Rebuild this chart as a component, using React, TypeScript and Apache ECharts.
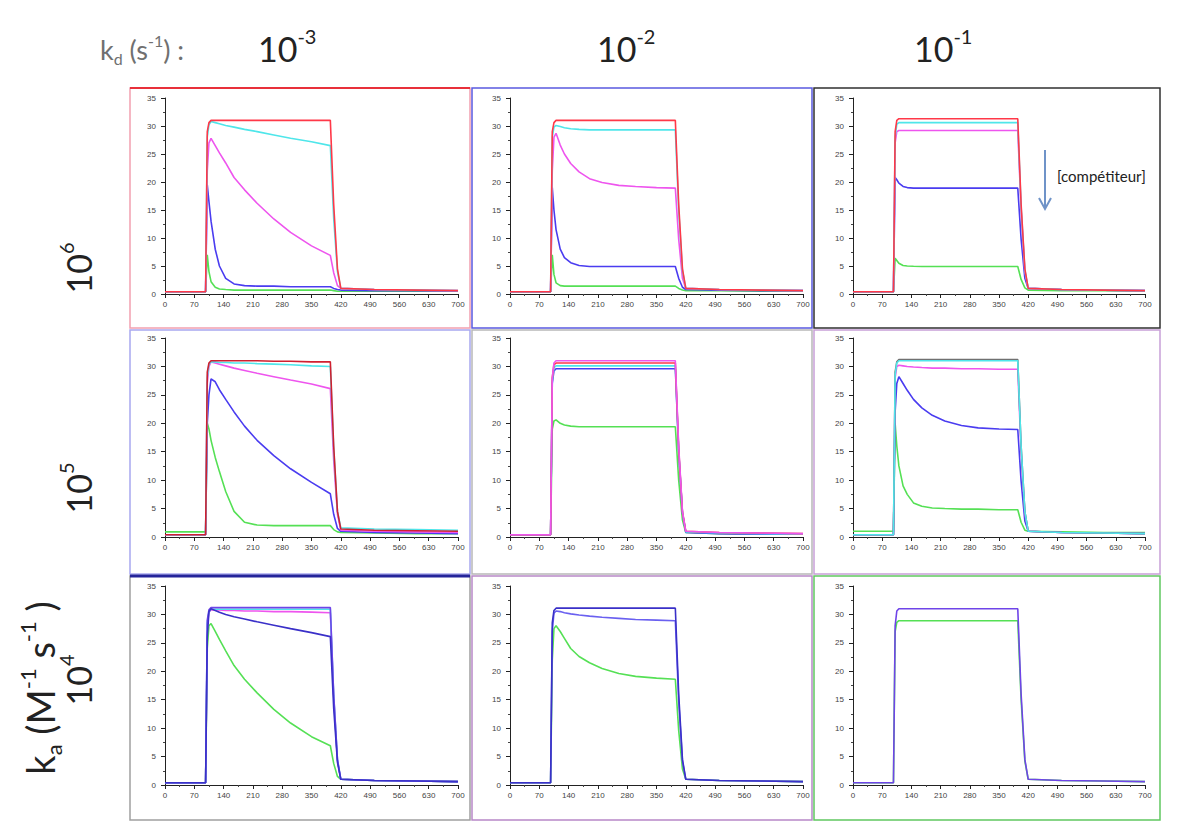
import React, { useEffect, useRef } from "react";
import * as echarts from "echarts";

// shared time points (s)
const T = [0, 97, 101, 105, 110, 120, 130, 145, 165, 190, 220, 260, 300, 350, 395, 403, 412, 420, 500, 600, 700];

const KD_EXP = ["-3", "-2", "-1"];
const KA_EXP = ["6", "5", "4"];

// row 0 : ka = 1e6
const aRed = [0.4, 0.4, 29, 30.6, 31, 31, 31, 31, 31, 31, 31, 31, 31, 31, 31, 16, 4.5, 1.0, 0.8, 0.7, 0.6];
const aCyan = [0.4, 0.4, 28, 30.2, 30.8, 30.6, 30.4, 30.1, 29.8, 29.4, 29.0, 28.4, 27.8, 27.2, 26.5, 13.5, 4.0, 1.0, 0.8, 0.7, 0.6];
const aMagenta = [0.4, 0.4, 22, 27, 27.8, 26.5, 25.2, 23.4, 20.8, 18.6, 16.2, 13.4, 11.0, 8.6, 6.9, 3.8, 1.5, 1.0, 0.8, 0.7, 0.6];
const aBlue = [0.4, 0.4, 19.5, 16.5, 13, 8, 5, 2.8, 1.8, 1.5, 1.4, 1.4, 1.3, 1.3, 1.3, 1.0, 0.8, 0.7, 0.6, 0.6, 0.5];
const aGreen = [0.4, 0.4, 7, 4, 2.2, 1.2, 0.9, 0.8, 0.7, 0.7, 0.7, 0.7, 0.7, 0.7, 0.7, 0.6, 0.5, 0.5, 0.5, 0.5, 0.5];

const bRed = [0.4, 0.4, 29, 30.6, 31, 31, 31, 31, 31, 31, 31, 31, 31, 31, 31, 16, 4.5, 1.0, 0.8, 0.7, 0.6];
const bCyan = [0.4, 0.4, 28, 29.8, 30.1, 29.9, 29.7, 29.5, 29.4, 29.3, 29.3, 29.3, 29.3, 29.3, 29.3, 15, 4.2, 1.0, 0.8, 0.7, 0.6];
const bMagenta = [0.4, 0.4, 22, 28, 28.7, 26.6, 25.0, 23.3, 21.8, 20.6, 19.9, 19.4, 19.2, 19.0, 18.9, 9.8, 2.8, 1.0, 0.8, 0.7, 0.6];
const bBlue = [0.4, 0.4, 19, 15, 11.5, 8, 6.5, 5.6, 5.1, 4.9, 4.9, 4.9, 4.9, 4.9, 4.9, 2.8, 1.2, 0.8, 0.7, 0.6, 0.6];
const bGreen = [0.4, 0.4, 7, 3.5, 2, 1.5, 1.4, 1.4, 1.4, 1.4, 1.4, 1.4, 1.4, 1.4, 1.4, 1.0, 0.7, 0.6, 0.6, 0.5, 0.5];

const cRed = [0.4, 0.4, 29, 31, 31.3, 31.3, 31.3, 31.3, 31.3, 31.3, 31.3, 31.3, 31.3, 31.3, 31.3, 16, 4.5, 1.0, 0.8, 0.7, 0.6];
const cCyan = [0.4, 0.4, 28, 30.3, 30.6, 30.6, 30.6, 30.6, 30.6, 30.6, 30.6, 30.6, 30.6, 30.6, 30.6, 15.5, 4.3, 1.0, 0.8, 0.7, 0.6];
const cMagenta = [0.4, 0.4, 27, 29, 29.2, 29.2, 29.2, 29.2, 29.2, 29.2, 29.2, 29.2, 29.2, 29.2, 29.2, 15, 4.0, 1.0, 0.8, 0.7, 0.6];
const cBlue = [0.4, 0.4, 20.8, 20.4, 19.8, 19.2, 19.0, 18.9, 18.9, 18.9, 18.9, 18.9, 18.9, 18.9, 18.9, 9.8, 2.8, 1.0, 0.8, 0.7, 0.6];
const cGreen = [0.4, 0.4, 6.4, 6.0, 5.5, 5.1, 5.0, 4.95, 4.9, 4.9, 4.9, 4.9, 4.9, 4.9, 4.9, 2.6, 1.1, 0.7, 0.6, 0.6, 0.5];

// row 1 : ka = 1e5
const dRed = [0.4, 0.4, 29, 30.6, 31, 31, 31, 31, 31, 31, 31, 30.9, 30.9, 30.8, 30.8, 16, 4.5, 1.4, 1.2, 1.1, 1.0];
const dCyan = [0.4, 0.4, 28, 30.4, 30.8, 30.8, 30.7, 30.7, 30.6, 30.6, 30.5, 30.4, 30.3, 30.1, 30.0, 15.5, 4.5, 1.6, 1.4, 1.3, 1.2];
const dMagenta = [0.4, 0.4, 27, 30, 30.8, 30.6, 30.4, 30.1, 29.7, 29.3, 28.8, 28.2, 27.6, 26.9, 26.1, 13.5, 4.0, 1.2, 1.0, 0.9, 0.8];
const dBlue = [0.4, 0.4, 20, 25, 27.8, 27.3, 25.9, 24.2, 22.0, 19.5, 17.0, 14.3, 12.0, 9.6, 7.6, 4.0, 1.5, 1.0, 0.8, 0.7, 0.6];
const dGreen = [0.9, 0.9, 20, 19, 17, 14, 11.5, 8, 4.5, 2.6, 2.1, 2.0, 2.0, 2.0, 2.0, 1.3, 0.9, 0.8, 0.7, 0.6, 0.6];

const eMagenta = [0.4, 0.4, 28, 30.6, 31, 31, 31, 31, 31, 31, 31, 31, 31, 31, 31, 16, 4.5, 1.0, 0.8, 0.7, 0.6];
const eRed = [0.4, 0.4, 28, 30.3, 30.6, 30.6, 30.6, 30.6, 30.6, 30.6, 30.6, 30.6, 30.6, 30.6, 30.6, 15.5, 4.4, 1.0, 0.8, 0.7, 0.6];
const eCyan = [0.4, 0.4, 27.5, 29.8, 30.1, 30.1, 30.1, 30.1, 30.1, 30.1, 30.1, 30.1, 30.1, 30.1, 30.1, 15.2, 4.3, 0.9, 0.7, 0.6, 0.5];
const eBlue = [0.4, 0.4, 27, 29.2, 29.6, 29.6, 29.6, 29.6, 29.6, 29.6, 29.6, 29.6, 29.6, 29.6, 29.6, 15, 4.2, 0.8, 0.6, 0.5, 0.5];
const eGreen = [0.4, 0.4, 19, 20.4, 20.6, 20.0, 19.7, 19.5, 19.4, 19.4, 19.4, 19.4, 19.4, 19.4, 19.4, 10, 3.0, 0.8, 0.6, 0.5, 0.5];

const fRed = [0.4, 0.4, 29, 30.8, 31.2, 31.2, 31.2, 31.2, 31.2, 31.2, 31.2, 31.2, 31.2, 31.2, 31.2, 16, 4.5, 1.0, 0.8, 0.7, 0.6];
const fCyan = [0.4, 0.4, 28.5, 30.6, 31.0, 31.0, 31.0, 31.0, 31.0, 31.0, 31.0, 31.0, 31.0, 31.0, 31.0, 16, 4.5, 1.0, 0.8, 0.7, 0.6];
const fMagenta = [0.4, 0.4, 28, 30, 30.2, 30.1, 30.0, 29.9, 29.8, 29.7, 29.7, 29.6, 29.6, 29.5, 29.5, 15, 4.2, 1.0, 0.8, 0.7, 0.6];
const fBlue = [0.4, 0.4, 22, 27, 28.2, 27.0, 25.8, 24.2, 22.7, 21.4, 20.4, 19.6, 19.2, 19.0, 18.9, 9.8, 2.8, 1.0, 0.8, 0.7, 0.6];
const fGreen = [1.0, 1.0, 20, 16, 12.5, 9, 7.5, 6.0, 5.4, 5.1, 5.0, 4.9, 4.9, 4.8, 4.8, 2.6, 1.2, 1.0, 0.9, 0.8, 0.8];

// row 2 : ka = 1e4
const gViolet = [0.4, 0.4, 29, 30.8, 31.2, 31.2, 31.2, 31.2, 31.2, 31.2, 31.2, 31.2, 31.2, 31.2, 31.2, 16, 4.5, 1.0, 0.8, 0.7, 0.6];
const gCyan = [0.4, 0.4, 28.5, 30.5, 30.9, 30.9, 30.9, 30.9, 30.9, 30.9, 30.9, 30.9, 30.9, 30.9, 30.9, 15.8, 4.4, 1.0, 0.8, 0.7, 0.6];
const gMagenta = [0.4, 0.4, 28, 30.4, 30.8, 30.8, 30.8, 30.7, 30.7, 30.6, 30.6, 30.5, 30.5, 30.4, 30.3, 15.5, 4.3, 1.0, 0.8, 0.7, 0.6];
const gBlue = [0.4, 0.4, 26, 30.5, 31, 30.7, 30.4, 30.0, 29.6, 29.2, 28.7, 28.1, 27.5, 26.8, 26.1, 13.5, 4.0, 1.0, 0.8, 0.7, 0.6];
const gGreen = [0.4, 0.4, 24, 28, 28.4, 27, 25.6, 23.6, 21.0, 18.6, 16.2, 13.3, 10.9, 8.5, 6.9, 3.8, 1.5, 1.0, 0.8, 0.7, 0.6];

const hNavy = [0.4, 0.4, 28.5, 30.7, 31.1, 31.1, 31.1, 31.1, 31.1, 31.1, 31.1, 31.1, 31.1, 31.1, 31.1, 16, 4.5, 1.0, 0.8, 0.7, 0.6];
const hBlue = [0.4, 0.4, 27, 30.2, 30.6, 30.5, 30.3, 30.1, 29.9, 29.7, 29.5, 29.3, 29.1, 29.0, 28.9, 14.8, 4.2, 1.0, 0.8, 0.7, 0.6];
const hGreen = [0.4, 0.4, 22, 27.5, 28.0, 27.0, 25.8, 24.0, 22.6, 21.5, 20.5, 19.6, 19.1, 18.8, 18.6, 9.6, 2.8, 1.0, 0.8, 0.7, 0.6];

const iViolet = [0.4, 0.4, 28, 30.6, 31.0, 31.0, 31.0, 31.0, 31.0, 31.0, 31.0, 31.0, 31.0, 31.0, 31.0, 16, 4.5, 1.0, 0.8, 0.7, 0.6];
const iGreen = [0.4, 0.4, 27, 28.6, 28.9, 28.9, 28.9, 28.9, 28.9, 28.9, 28.9, 28.9, 28.9, 28.9, 28.9, 15, 4.2, 1.0, 0.8, 0.7, 0.6];

const RED = "#ff3848";
const CYAN = "#4fe6ea";
const MAGENTA = "#ee55ee";
const BLUE = "#4a3cf0";
const GREEN = "#55e055";
const VIOLET = "#6f44e8";
const NAVY = "#3a30c8";

const PANELS: [number[], string][][] = [
  [[aGreen, GREEN], [aBlue, BLUE], [aMagenta, MAGENTA], [aCyan, CYAN], [aRed, RED]],
  [[bGreen, GREEN], [bBlue, BLUE], [bMagenta, MAGENTA], [bCyan, CYAN], [bRed, RED]],
  [[cGreen, GREEN], [cBlue, BLUE], [cMagenta, MAGENTA], [cCyan, CYAN], [cRed, RED]],
  [[dGreen, GREEN], [dBlue, BLUE], [dMagenta, MAGENTA], [dCyan, CYAN], [dRed, "#d02030"]],
  [[eGreen, GREEN], [eBlue, BLUE], [eCyan, CYAN], [eRed, RED], [eMagenta, MAGENTA]],
  [[fGreen, GREEN], [fBlue, BLUE], [fMagenta, MAGENTA], [fRed, "#707070"], [fCyan, CYAN]],
  [[gGreen, GREEN], [gMagenta, MAGENTA], [gCyan, CYAN], [gViolet, VIOLET], [gBlue, NAVY]],
  [[hGreen, GREEN], [hBlue, "#6a60f0"], [hNavy, NAVY]],
  [[iGreen, GREEN], [iViolet, VIOLET]],
];

const GRID_LEFT = [165, 510, 853];
const GRID_W = [293, 293, 292];
const GRID_TOP = [98, 338, 586];
const GRID_H = [196, 199, 199];

const BOXES = [
  { x: 130, y: 88, w: 340, h: 240, c: "#f2a0b0" },
  { x: 472, y: 88, w: 340, h: 240, c: "#5a5ae0" },
  { x: 814, y: 88, w: 346, h: 240, c: "#303030" },
  { x: 130, y: 330, w: 340, h: 244, c: "#a8a8f0" },
  { x: 472, y: 330, w: 340, h: 244, c: "#b8b8b8" },
  { x: 814, y: 330, w: 346, h: 244, c: "#c8a0d8" },
  { x: 130, y: 576, w: 340, h: 244, c: "#a0a0a0" },
  { x: 472, y: 576, w: 340, h: 244, c: "#b888c8" },
  { x: 814, y: 576, w: 346, h: 244, c: "#60c860" },
];

const FONT = "Lato, 'Open Sans', sans-serif";

function buildOption() {
  const grid: any[] = [];
  const xAxis: any[] = [];
  const yAxis: any[] = [];
  const series: any[] = [];
  PANELS.forEach((lines, i) => {
    const r = Math.floor(i / 3);
    const c = i % 3;
    grid.push({ left: GRID_LEFT[c], top: GRID_TOP[r], width: GRID_W[c], height: GRID_H[r], containLabel: false, outerBoundsMode: "none" });
    xAxis.push({
      type: "value", gridIndex: i, min: 0, max: 700, interval: 70,
      axisLine: { show: true, onZero: false, lineStyle: { color: "#222", width: 1 } },
      axisTick: { show: true, length: 4, lineStyle: { color: "#222" } },
      minorTick: { show: true, splitNumber: 2, length: 2, lineStyle: { color: "#444" } },
      splitLine: { show: false },
      axisLabel: { fontSize: 8, color: "#444", margin: 6, fontFamily: "'Liberation Sans', sans-serif" },
    });
    yAxis.push({
      type: "value", gridIndex: i, min: 0, max: 35, interval: 5,
      axisLine: { show: true, lineStyle: { color: "#222", width: 1 } },
      axisTick: { show: true, length: 4, lineStyle: { color: "#222" } },
      minorTick: { show: true, splitNumber: 2, length: 2, lineStyle: { color: "#444" } },
      splitLine: { show: false },
      axisLabel: { fontSize: 8, color: "#444", margin: 9, fontFamily: "'Liberation Sans', sans-serif" },
    });
    lines.forEach(([vals, color]) => {
      series.push({
        type: "line", xAxisIndex: i, yAxisIndex: i, symbol: "none", showSymbol: false, silent: true,
        data: T.map((t, k) => [t, vals[k]]),
        lineStyle: { color, width: 1.6 },
      });
    });
  });

  const elements: any[] = [];
  BOXES.forEach((b) => {
    elements.push({ type: "rect", shape: { x: b.x, y: b.y, width: b.w, height: b.h }, style: { fill: "none", stroke: b.c, lineWidth: 1.5 }, z: 10 });
  });
  elements.push({ type: "line", shape: { x1: 130, y1: 88, x2: 470, y2: 88 }, style: { stroke: "#e8303a", lineWidth: 2 }, z: 11 });
  elements.push({ type: "line", shape: { x1: 130, y1: 576, x2: 470, y2: 576 }, style: { stroke: "#24249a", lineWidth: 3 }, z: 11 });

  const supRich = {
    n: { fontSize: 34, fontFamily: FONT, fill: "#222", lineHeight: 44, verticalAlign: "middle" },
    sup: { fontSize: 20, fontFamily: FONT, fill: "#222", lineHeight: 22, verticalAlign: "top" },
    sub: { fontSize: 20, fontFamily: FONT, fill: "#222", lineHeight: 22, verticalAlign: "bottom" },
  };

  // k_d header
  elements.push({
    type: "text", x: 100, y: 49,
    style: {
      text: "{n|k}{sub|d}{n| (s}{sup|-1}{n|) :}",
      align: "left", verticalAlign: "middle", textAlign: "left", textVerticalAlign: "middle",
      rich: {
        n: { fontSize: 27, fontFamily: FONT, fill: "#707070", lineHeight: 34 },
        sup: { fontSize: 16, fontFamily: FONT, fill: "#707070", lineHeight: 16, verticalAlign: "top" },
        sub: { fontSize: 16, fontFamily: FONT, fill: "#707070", lineHeight: 16, verticalAlign: "bottom" },
      },
    },
  });
  const headX = [258, 597, 914];
  KD_EXP.forEach((e, k) => {
    elements.push({
      type: "text", x: headX[k], y: 48,
      style: { text: `{n|10}{sup|${e}}`, align: "left", verticalAlign: "middle", textAlign: "left", textVerticalAlign: "middle", rich: supRich },
    });
  });
  const rowY = [268, 488, 680];
  KA_EXP.forEach((e, k) => {
    elements.push({
      type: "group", x: 78, y: rowY[k], rotation: Math.PI / 2,
      children: [{
        type: "text", x: 0, y: 0,
        style: { text: `{n|10}{sup|${e}}`, align: "center", verticalAlign: "middle", textAlign: "center", textVerticalAlign: "middle", rich: supRich },
      }],
    });
  });
  elements.push({
    type: "group", x: 40, y: 688, rotation: Math.PI / 2,
    children: [{
      type: "text", x: 0, y: 0,
      style: {
        text: "{n|k}{sub|a}{n| (M}{sup|-1}{n| s}{sup|-1}{n| )}",
        align: "center", verticalAlign: "middle", textAlign: "center", textVerticalAlign: "middle",
        rich: {
          n: { fontSize: 38, fontFamily: FONT, fill: "#222", lineHeight: 48 },
          sup: { fontSize: 22, fontFamily: FONT, fill: "#222", lineHeight: 24, verticalAlign: "top" },
          sub: { fontSize: 22, fontFamily: FONT, fill: "#222", lineHeight: 24, verticalAlign: "bottom" },
        },
      },
    }],
  });
  // competitor arrow
  elements.push({ type: "line", shape: { x1: 1045, y1: 150, x2: 1045, y2: 208 }, style: { stroke: "#6f93c8", lineWidth: 2 }, z: 12 });
  elements.push({ type: "polyline", shape: { points: [[1039, 198], [1045, 209], [1051, 198]] }, style: { stroke: "#6f93c8", lineWidth: 2, fill: "none" }, z: 12 });
  elements.push({
    type: "text", x: 1057, y: 176,
    style: { text: "[compétiteur]", fontSize: 15, fontFamily: FONT, fill: "#222", align: "left", verticalAlign: "middle", textAlign: "left", textVerticalAlign: "middle" },
    z: 12,
  });

  return {
    animation: false,
    backgroundColor: "#ffffff",
    grid, xAxis, yAxis, series,
    graphic: { elements },
  };
}

export default function App() {
  const ref = useRef<HTMLDivElement>(null);
  useEffect(() => {
    const chart = echarts.init(ref.current as HTMLDivElement, null, { renderer: "svg" });
    chart.setOption(buildOption() as any);
    return () => chart.dispose();
  }, []);
  return (
    <div
      ref={ref}
      style={{ position: "absolute", left: 0, top: 0, width: 1185, height: 822, background: "#fff" }}
    />
  );
}
